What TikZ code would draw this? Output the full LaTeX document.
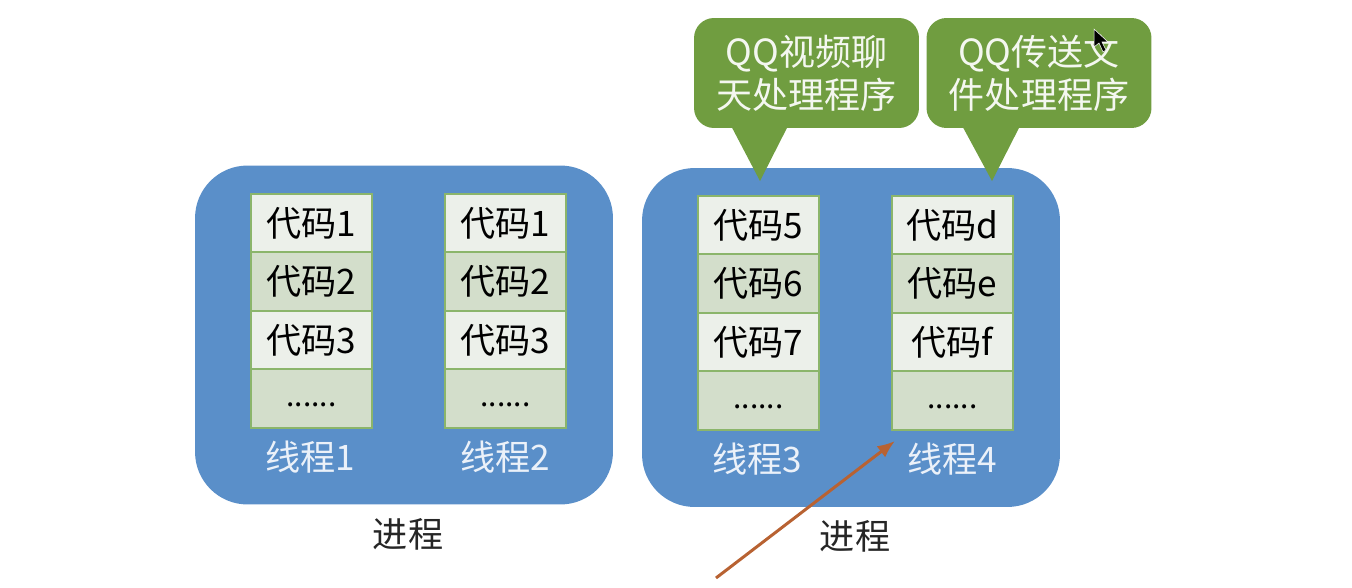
\documentclass[tikz,border=0pt]{standalone}
\usepackage{fontspec}
\setmainfont{Noto Sans CJK SC}
\usepackage{xcolor}
\usetikzlibrary{arrows.meta,positioning}
\definecolor{procc}{RGB}{90,143,201}
\definecolor{celll}{RGB}{236,240,234}
\definecolor{celld}{RGB}{211,222,203}
\definecolor{edgec}{RGB}{139,181,107}
\definecolor{qqc}{RGB}{112,157,64}
\definecolor{arrc}{RGB}{184,98,50}

\begin{document}
\begin{tikzpicture}[x=0.02cm,y=-0.02cm,>={Latex[length=10pt,width=8pt]},
  proc/.style={fill=procc,rounded corners=1.05cm,minimum width=8.36cm,minimum height=6.78cm,outer sep=0pt},
  clight/.style={draw=edgec,line width=1.1pt,fill=celll,minimum width=2.42cm,minimum height=1.17cm,inner sep=0pt,outer sep=0pt,font=\fontsize{20}{23}\selectfont},
  cdark/.style={clight,fill=celld},
  cdots/.style={cdark,font=\fontsize{17}{20}\selectfont},
  tname/.style={white!88!procc,font=\fontsize{20}{23}\selectfont},
  pname/.style={black!85,font=\fontsize{20}{24}\selectfont},
  qqbox/.style={fill=qqc,rounded corners=0.4cm,minimum width=4.5cm,minimum height=2.2cm,align=center,text=white!92!qqc,inner sep=0pt,font=\fontsize{20.5}{24.5}\selectfont}]
  \useasboundingbox (0,0) rectangle (1352,588);
  % left process
  \node[proc] (procl) at (404,335) {};
  \node[clight] (ca1) at (311.5,223) {代码1};
  \node[cdark,below=0pt of ca1] (ca2) {代码2};
  \node[clight,below=0pt of ca2] (ca3) {代码3};
  \node[cdots,below=0pt of ca3] (ca4) {\raisebox{-9pt}{......}};
  \node[clight] (cb1) at (505.5,223) {代码1};
  \node[cdark,below=0pt of cb1] (cb2) {代码2};
  \node[clight,below=0pt of cb2] (cb3) {代码3};
  \node[cdots,below=0pt of cb3] (cb4) {\raisebox{-9pt}{......}};
  \node[tname] (t1) at (310,457) {线程1};
  \node[tname] (t2) at (505,457) {线程2};
  \node[pname] (pl) at (408,534) {进程};
  % right process
  \node[proc] (procr) at (851,337.5) {};
  \node[clight] (cc1) at (758.5,225) {代码5};
  \node[cdark,below=0pt of cc1] (cc2) {代码6};
  \node[clight,below=0pt of cc2] (cc3) {代码7};
  \node[cdots,below=0pt of cc3] (cc4) {\raisebox{-9pt}{......}};
  \node[clight] (cd1) at (952.5,225) {代码d};
  \node[cdark,below=0pt of cd1] (cd2) {代码e};
  \node[clight,below=0pt of cd2] (cd3) {代码f};
  \node[cdots,below=0pt of cd3] (cd4) {\raisebox{-9pt}{......}};
  \node[tname] (t3) at (757,459) {线程3};
  \node[tname] (t4) at (952,459) {线程4};
  \node[pname] (pr) at (855,536) {进程};
  % callouts, tails first
  \fill[qqc] (728,120) -- (760,181) -- (791,120) -- cycle;
  \fill[qqc] (959,120) -- (992,181) -- (1023,120) -- cycle;
  \node[qqbox] (qqv) at (806.5,73) {QQ视频聊\\天处理程序};
  \node[qqbox] (qqf) at (1039,73) {QQ传送文\\件处理程序};
  % pointer
  \coordinate (arrs) at (716,578);
  \coordinate (arre) at (895,441);
  \draw[->,arrc,line width=1.7pt] (arrs)--(arre);
  % mouse cursor
  \fill[black,draw=white,line width=0.3pt] (1094,29)--(1094,47)--(1099,43)--(1103,52)--(1106,50)--(1102,42)--(1108,42)--cycle;
\end{tikzpicture}
\end{document}
